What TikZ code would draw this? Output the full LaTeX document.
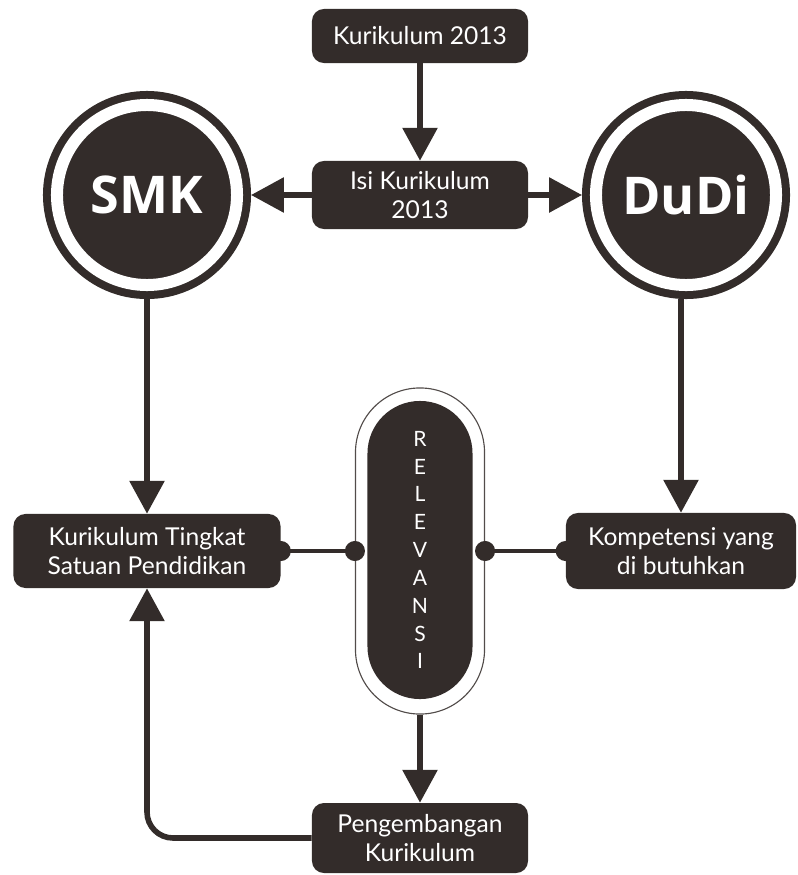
\documentclass[tikz,border=0pt]{standalone}
\usepackage{fontspec}
\setmainfont{Lato}
\newfontfamily\badgefont{Open Sans}
\usetikzlibrary{arrows.meta}
\definecolor{ink}{RGB}{51,44,42}

\begin{document}
\begin{tikzpicture}[x=0.025cm, y=-0.025cm,
  box/.style={fill=ink, text=white, rounded corners=0.3cm, align=center, inner sep=0,
    font=\fontsize{17.5}{21}\selectfont},
  badge/.style={circle, fill=ink, draw=ink, line width=0.2cm, double=white, double distance=0.3cm,
    minimum size=4.5cm, inner sep=0, outer sep=0.35cm, text=white,
    font=\badgefont\bfseries\fontsize{37}{37}\selectfont},
  arr/.style={draw=ink, line width=0.14cm, -{Triangle[length=0.82cm, width=0.85cm]}},
  link/.style={draw=ink, line width=0.11cm, {Circle[length=0.5cm]}-{Circle[length=0.5cm]},
    shorten <=-0.25cm, shorten >=-0.25cm}]

  \useasboundingbox (0,0) rectangle (797,875);

  % top row
  \node[box, minimum width=5.4cm, minimum height=1.35cm] (k13) at (420,36) {Kurikulum 2013};
  \node[box, minimum width=5.4cm, minimum height=1.7cm] (isi) at (420,195) {Isi Kurikulum\\2013};
  \node[badge] (smk) at (147,195) {SMK};
  \node[badge] (dudi) at (686,195) {DuDi};

  % middle row
  \node[box, minimum width=6.675cm, minimum height=1.85cm] (ktsp) at (147,551) {Kurikulum Tingkat\\Satuan Pendidikan};
  \node[box, minimum width=5.75cm, minimum height=1.9cm] (komp) at (681,551) {Kompetensi yang\\di butuhkan};
  \node[draw=ink!85, line width=0.8pt, fill=white, rounded corners=1.61cm,
    minimum width=3.225cm, minimum height=8.15cm, inner sep=0] (rel) at (420,551) {};
  \node[fill=ink, text=white, rounded corners=1.31cm, minimum width=2.625cm, minimum height=7.45cm,
    inner sep=0, align=center, font=\fontsize{15}{19.8}\selectfont] (relin) at (420,550)
    {R\\E\\L\\E\\V\\A\\N\\S\\I};

  % bottom
  \node[box, minimum width=5.4cm, minimum height=1.75cm] (peng) at (420,838) {Pengembangan\\Kurikulum};

  % connectors
  \draw[arr] (k13) -- (isi);
  \draw[arr] (isi) -- (smk);
  \draw[arr] (isi) -- (dudi);
  \draw[arr] (smk) -- (ktsp);
  \draw[arr] (dudi.south -| komp.north) -- (komp.north);
  \draw[link] (ktsp.east) -- (rel.west);
  \draw[link] (rel.east) -- (komp.west);
  \draw[arr] (rel) -- (peng);
  \draw[arr, rounded corners=0.65cm] (peng.west) -| (ktsp.south);

\end{tikzpicture}
\end{document}
